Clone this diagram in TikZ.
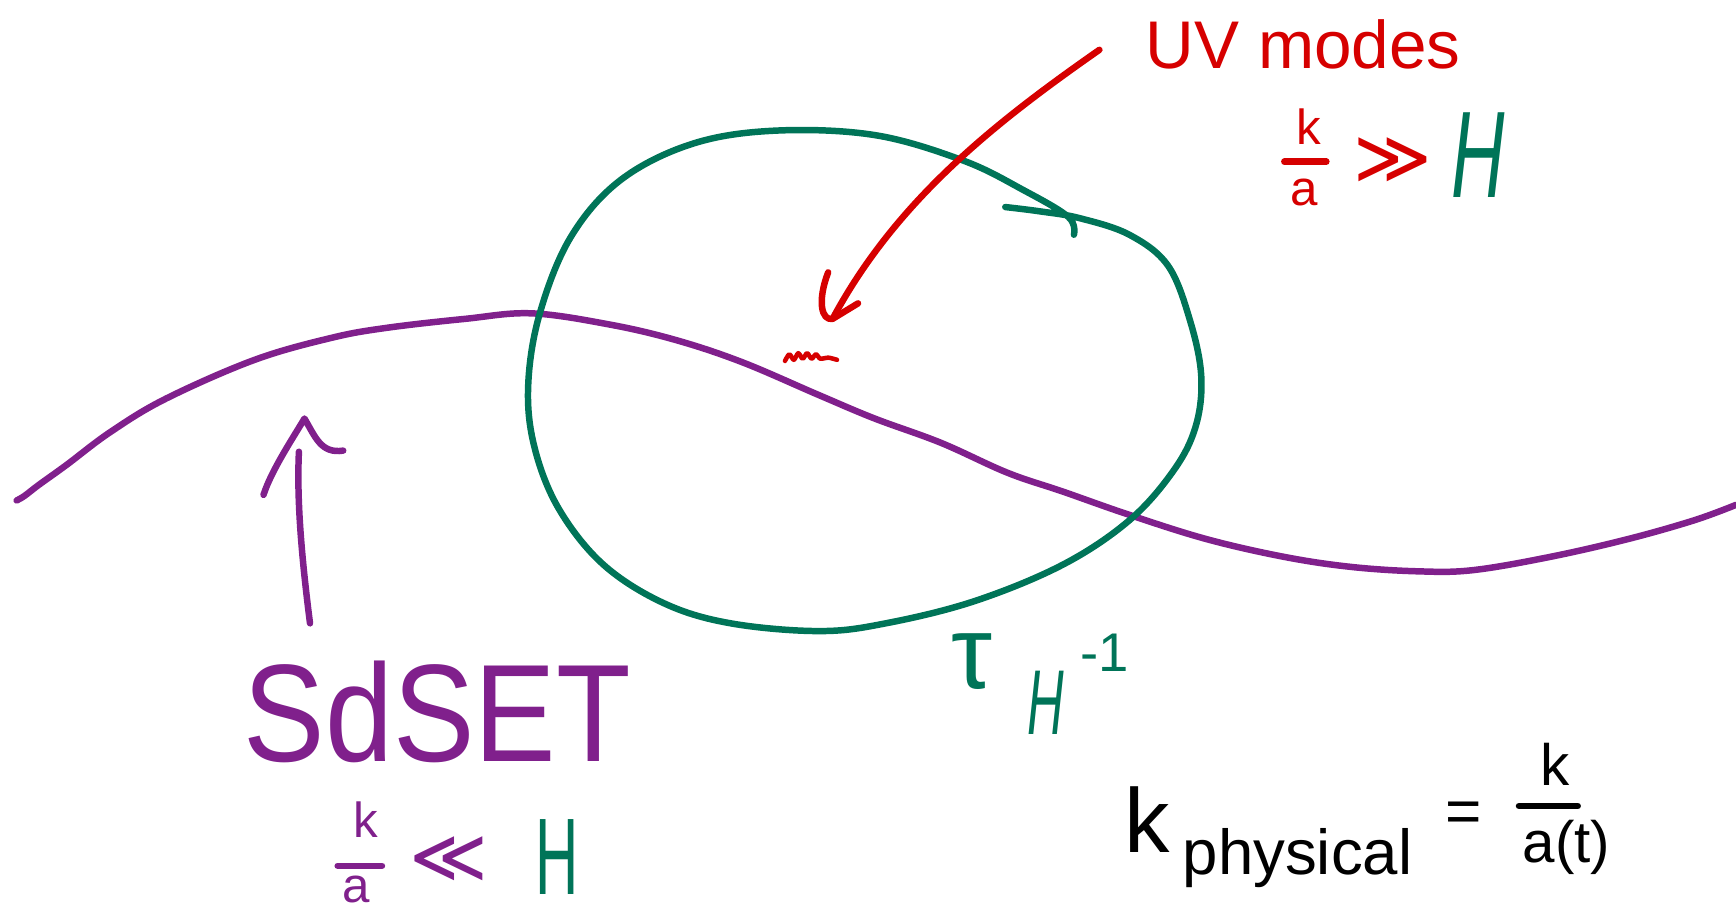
\documentclass[tikz,border=0pt]{standalone}
\usepackage{fontspec}
\setmainfont{Liberation Sans}
\newfontfamily\dejavu{DejaVu Sans}
\usetikzlibrary{arrows.meta}
\definecolor{pur}{RGB}{128,32,140}
\definecolor{grn}{RGB}{0,116,88}
\definecolor{rd}{RGB}{214,0,0}
\tikzset{
  stroke/.style={line width=5pt,line cap=round,line join=round},
  lbl/.style={inner sep=0pt,anchor=center}
}
\newcommand{\fsz}[1]{\fontsize{#1}{#1}\selectfont}
\begin{document}
\begin{tikzpicture}[x=0.03cm,y=-0.03cm]
\useasboundingbox (0,0) rectangle (1568,828);

% purple curve
\draw[stroke,pur] plot[smooth,tension=0.6] coordinates {(15,452) (22,448) (35,438) (60,420) (100,390) (150,360) (230,325) (300,305) (350,296) (420,288) (480,283) (550,293) (610,307) (670,327) (740,357) (790,378) (850,400) (910,427) (960,444) (1020,465) (1090,487) (1160,503) (1220,512) (1280,516) (1330,515) (1400,503) (1470,487) (1530,470) (1568,456)};

% green loop
\draw[stroke,grn] plot[smooth,tension=0.6] coordinates {(908,187) (940,191) (975,197) (1020,212) (1055,240) (1075,290) (1085,340) (1080,385) (1060,425) (1020,470) (960,510) (880,543) (800,563) (740,570) (660,563) (600,545) (545,510) (505,460) (483,405) (477,350) (487,285) (515,215) (560,163) (625,130) (700,118) (790,122) (870,145) (925,172) (965,196) (970,212)};

% small mode squiggle
\draw[stroke,rd,line width=3.5pt] plot[smooth,tension=0.5] coordinates {(709,326) (713,320) (717,325) (721,319) (725,324) (729,319) (733,324) (737,320) (741,324) (748,323) (756,325)};

% labels
\node[lbl,text=rd,font=\fsz{52}] (uv) at (1177,40) {UV modes};
\node[lbl,text=rd,font=\fsz{38}] (ka1) at (1182,114) {k};
\node[lbl,text=rd,font=\fsz{38}] (aa1) at (1178,174) {a};
\draw[stroke,rd] (1160,146) -- (1198,146);
\node[lbl,text=rd,font=\dejavu\fsz{58}] (gg) at (1258,145) {≫};
\node[lbl,text=grn,font=\fsz{95}] (H1) at (1335,140) {\scalebox{0.6}[1]{\itshape H}};

\node[lbl,text=pur,font=\fsz{107}] (sdset) at (395,643) {\scalebox{0.88}[1]{SdSET}};
\node[lbl,text=pur,font=\fsz{38}] (ka2) at (330,740) {k};
\node[lbl,text=pur,font=\fsz{38}] (aa2) at (322,803) {a};
\draw[stroke,pur] (305,782) -- (345,782);
\node[lbl,text=pur,font=\dejavu\fsz{58}] (ll) at (405,776) {≪};
\node[lbl,text=grn,font=\fsz{84}] (H2) at (503,774) {\scalebox{0.55}[1]{H}};

\node[lbl,text=grn,font=\fsz{80}] (tau) at (878,598) {τ};
\node[lbl,text=grn,font=\fsz{71}] (H3) at (945,635) {\scalebox{0.55}[1]{\itshape H}};
\node[lbl,text=grn,font=\fsz{42}] (m1) at (998,590) {-1};

\node[lbl,anchor=base west,font=\fsz{70}] (kph) at (1015,770) {k};
\node[lbl,anchor=base west,font=\fsz{49}] (phys) at (1068,790) {physical};
\node[lbl,font=\fsz{48}] (eq) at (1322,738) {=};
\node[lbl,font=\fsz{45}] (kn) at (1405,690) {k};
\draw[stroke] (1372,728) -- (1425,728);
\node[lbl,font=\fsz{45}] (at) at (1415,765) {a(t)};

% red arrow
\coordinate (uvtail) at (993,45);
\coordinate (uvtip) at (752,288);
\draw[stroke,rd] (uvtail) .. controls (900,110) and (810,180) .. (uvtip);
\draw[stroke,rd] (748,246) .. controls (738,272) and (742,290) .. (uvtip) -- (775,274);

% purple arrow
\coordinate (sdtail) at (280,563);
\coordinate (sdtip) at (275,378);
\draw[stroke,pur] (sdtail) .. controls (272,500) and (268,450) .. (270,408);
\draw[stroke,pur] (238,447) .. controls (245,425) and (265,395) .. (sdtip) .. controls (285,395) and (290,410) .. (310,407);
\end{tikzpicture}
\end{document}
